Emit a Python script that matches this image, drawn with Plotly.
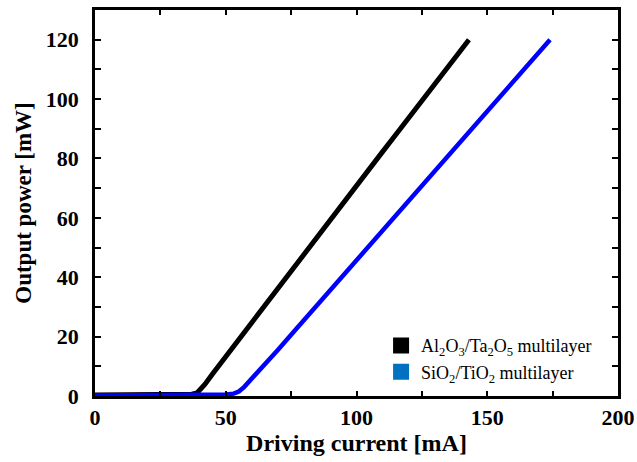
import plotly.graph_objects as go

# Al2O3/Ta2O5 multilayer (black)
x_al = [0, 5, 10, 15, 20, 25, 30, 35, 37, 39, 40, 42, 45, 50, 55, 60, 65, 70, 75, 80, 85,
        90, 95, 100, 105, 110, 115, 120, 125, 130, 135, 140, 143]
y_al = [0.3, 0.3, 0.3, 0.4, 0.4, 0.4, 0.5, 0.5, 0.6, 1.0, 1.8, 3.9, 7.5, 13.3, 19, 24.8, 30.5,
        36.3, 42, 47.8, 53.5, 59.3, 65, 70.8, 76.5, 82.3, 88, 93.8, 99.5, 105.3, 111, 116.6, 120]

# SiO2/TiO2 multilayer (blue)
x_si = [0, 10, 20, 30, 40, 50, 53, 55, 57, 60, 65, 70, 75, 80, 90, 100, 110, 120, 130,
        140, 150, 160, 170, 174]
y_si = [0.2, 0.2, 0.3, 0.3, 0.4, 0.5, 0.8, 1.5, 3, 5.8, 10.6, 15.6, 20.6, 25.6, 35.6,
        45.7, 55.8, 65.8, 75.9, 86, 96, 106, 116, 120]

name_al = "Al<sub>2</sub>O<sub>3</sub>/Ta<sub>2</sub>O<sub>5</sub> multilayer"
name_si = "SiO<sub>2</sub>/TiO<sub>2</sub> multilayer"

fig = go.Figure()
fig.add_trace(go.Scatter(x=x_al, y=y_al, mode="lines", line=dict(color="black", width=5),
                         showlegend=False))
fig.add_trace(go.Scatter(x=x_si, y=y_si, mode="lines", line=dict(color="#0000FF", width=4.5),
                         showlegend=False))
fig.add_trace(go.Scatter(x=[None], y=[None], mode="markers", name=name_al,
                         marker=dict(symbol="square", size=16, color="black")))
fig.add_trace(go.Scatter(x=[None], y=[None], mode="markers", name=name_si,
                         marker=dict(symbol="square", size=16, color="#0070C0")))

font = "Liberation Serif, Times New Roman, serif"
fig.update_layout(
    width=637, height=462,
    margin=dict(l=95, r=19, t=10, b=66, autoexpand=False),
    plot_bgcolor="white", paper_bgcolor="white",
    font=dict(family=font, color="black"),
    legend=dict(x=0.547, y=0.015, xanchor="left", yanchor="bottom",
                bgcolor="rgba(0,0,0,0)", font=dict(size=18, family=font),
                itemwidth=30, tracegroupgap=0),
)
fig.update_xaxes(
    range=[0, 200], dtick=50, tick0=0, automargin=False,
    showgrid=False, zeroline=False,
    showline=True, linewidth=2.5, linecolor="black", mirror="ticks",
    ticks="inside", ticklen=5, tickwidth=2, tickcolor="black",
    minor=dict(dtick=25, ticks="inside", ticklen=5, tickwidth=2, tickcolor="black", showgrid=False),
    tickfont=dict(size=22, family=font), tickprefix="<b>", ticksuffix="</b>",
    title=dict(text="<b>Driving current [mA]</b>", font=dict(size=24, family=font), standoff=6),
)
fig.update_yaxes(
    range=[0, 130], dtick=20, tick0=0, automargin=False,
    showgrid=False, zeroline=False,
    showline=True, linewidth=2.5, linecolor="black", mirror="ticks",
    ticks="inside", ticklen=6, tickwidth=2, tickcolor="black", ticklabelstandoff=9,
    minor=dict(dtick=10, ticks="inside", ticklen=6, tickwidth=2, tickcolor="black", showgrid=False),
    tickfont=dict(size=22, family=font), tickprefix="<b>", ticksuffix="</b>",
    title=dict(text="<b>Output power [mW]</b>", font=dict(size=23, family=font), standoff=8),
)
fig.write_html("out.html", config={"displayModeBar": False},
               post_script="document.body.style.margin='0';document.body.style.overflow='hidden';")
